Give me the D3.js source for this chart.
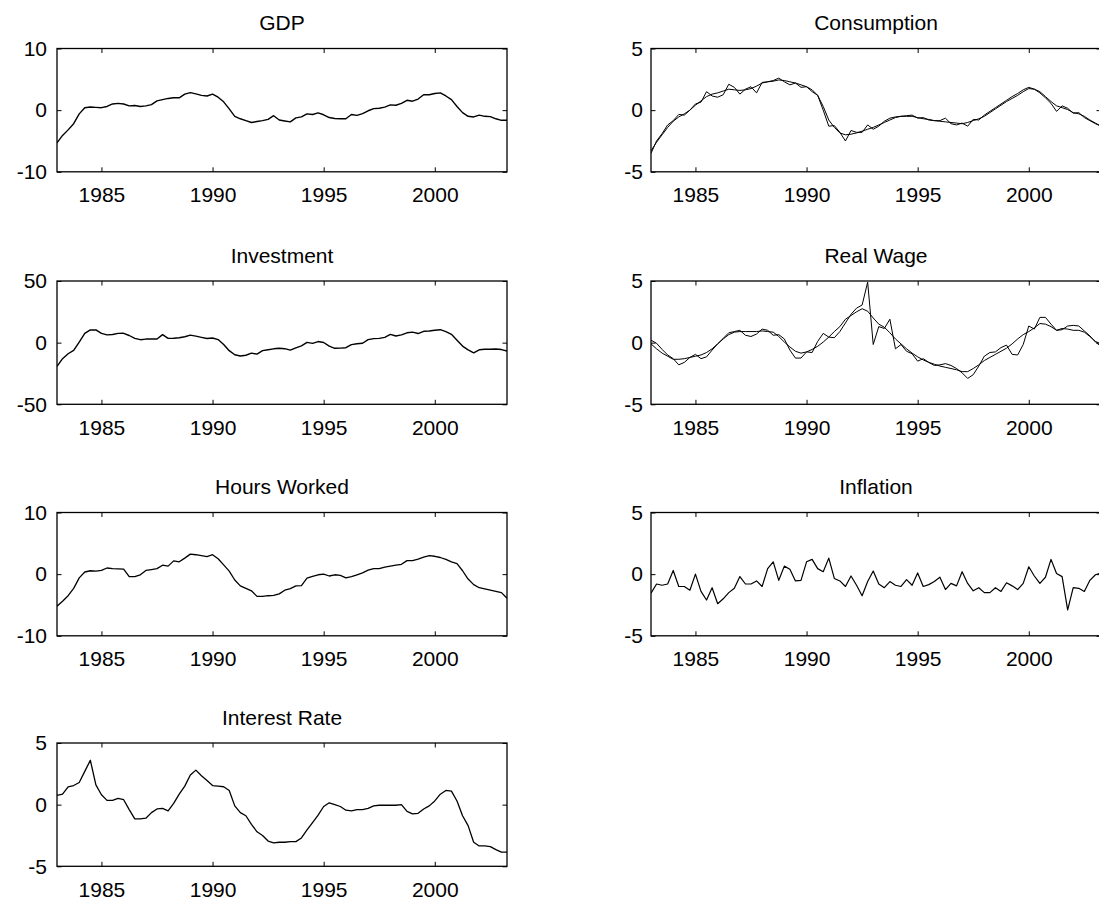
<!DOCTYPE html>
<html>
<head>
<meta charset="utf-8">
<script src="https://cdn.jsdelivr.net/npm/d3@7"></script>
<style>
  html, body { margin: 0; padding: 0; background: #fff; }
  svg { display: block; }
  text { font-family: "Liberation Sans", Arial, Helvetica, sans-serif; fill: #000; }
</style>
</head>
<body>
<svg id="chart" width="1099" height="905"></svg>
<script>
// ---- Data: quarterly, 1983Q1 .. 2003Q2 ----
const startYear = 1983;
const xTicks = [1985, 1990, 1995, 2000];

const gdp = [-5.3,-4.1,-3.2,-2.2,-0.6,0.4,0.5,0.45,0.4,0.6,1.0,1.1,1.0,0.7,0.75,0.6,0.7,0.9,1.5,1.7,1.9,2.0,2.0,2.6,2.85,2.65,2.4,2.3,2.6,2.1,1.35,0.2,-1.0,-1.4,-1.7,-2.0,-1.85,-1.7,-1.5,-0.9,-1.6,-1.75,-1.9,-1.25,-1.1,-0.6,-0.7,-0.45,-0.75,-1.2,-1.35,-1.4,-1.4,-0.7,-0.85,-0.55,-0.1,0.25,0.3,0.5,0.85,0.8,1.1,1.6,1.45,1.8,2.5,2.5,2.7,2.8,2.3,1.7,0.6,-0.4,-1.0,-1.1,-0.8,-1.0,-1.05,-1.4,-1.65,-1.65];

const consumption = [-3.5,-2.5,-1.9,-1.2,-0.85,-0.35,-0.4,0,0.5,0.65,1.5,1.15,1.05,1.25,2.1,1.85,1.3,1.7,1.9,1.4,2.25,2.3,2.4,2.6,2.3,2.05,2.2,1.85,1.9,1.5,1.2,0.0,-1.3,-1.25,-1.8,-2.5,-1.65,-1.8,-1.8,-1.2,-1.55,-1.3,-0.9,-0.65,-0.55,-0.5,-0.45,-0.4,-0.65,-0.6,-0.8,-0.85,-0.85,-0.65,-1.1,-1.2,-1.05,-1.3,-0.75,-0.8,-0.4,-0.1,0.2,0.5,0.8,1.1,1.35,1.65,1.85,1.7,1.4,1.0,0.55,-0.1,0.35,0.15,-0.25,-0.2,-0.6,-0.85,-1.1,-1.3];
const consumptionSmooth = [-3.3,-2.6,-2.0,-1.4,-0.9,-0.55,-0.3,0.0,0.4,0.75,1.1,1.3,1.4,1.55,1.7,1.65,1.6,1.65,1.75,1.95,2.2,2.3,2.35,2.45,2.4,2.3,2.2,2.05,1.9,1.65,1.2,0.3,-0.8,-1.4,-1.85,-2.0,-1.95,-1.85,-1.7,-1.55,-1.4,-1.2,-1.0,-0.8,-0.6,-0.5,-0.5,-0.5,-0.6,-0.7,-0.75,-0.85,-0.9,-0.95,-1.0,-1.05,-1.1,-1.0,-0.85,-0.7,-0.5,-0.2,0.1,0.4,0.7,0.95,1.2,1.5,1.75,1.7,1.5,1.1,0.7,0.35,0.2,0.05,-0.2,-0.3,-0.5,-0.8,-1.05,-1.3];

const investment = [-19.3,-13,-9,-6.3,0.5,7.5,10.3,10.4,7.5,6.3,6.6,7.5,7.6,5.8,3.5,2.4,2.9,3.0,3.0,6.5,3.5,3.6,4.0,4.8,6.1,5.3,4.3,3.4,3.8,2.5,-1.5,-6.5,-9.8,-10.8,-10.2,-8.5,-9.3,-6.5,-5.8,-5.0,-4.6,-4.9,-6.1,-4.2,-2.6,0.2,-0.6,0.9,0.1,-2.8,-4.6,-4.4,-4.1,-1.6,-0.9,-0.5,2.5,3.3,3.5,4.3,6.7,5.4,6.3,8.0,8.5,7.4,9.2,9.5,10.0,10.5,9.0,6.8,2.0,-2.8,-5.8,-8.2,-5.8,-5.4,-5.3,-5.2,-5.6,-6.8];

const realWage = [0.2,-0.05,-0.55,-1.0,-1.3,-1.8,-1.6,-1.2,-0.95,-1.3,-1.15,-0.6,-0.1,0.35,0.8,0.9,1.0,0.6,0.5,0.7,1.1,1.0,0.6,0.65,0.3,-0.6,-1.25,-1.25,-0.75,-0.8,0.1,0.75,0.45,0.4,0.9,1.6,2.3,2.8,3.05,4.9,-0.15,1.3,1.15,1.9,-0.5,-0.15,-0.7,-0.9,-1.5,-1.3,-1.6,-1.85,-1.8,-1.7,-1.85,-2.1,-2.45,-2.9,-2.6,-1.9,-1.1,-0.8,-0.75,-0.4,-0.2,-0.95,-1.0,-0.15,1.35,1.1,2.05,2.05,1.5,1.0,1.05,1.35,1.4,1.35,0.95,0.55,0.05,-0.3];
const realWageSmooth = [-0.1,-0.5,-0.85,-1.1,-1.35,-1.35,-1.3,-1.2,-1.1,-1.0,-0.8,-0.5,-0.1,0.3,0.65,0.85,0.9,0.9,0.9,0.9,0.95,0.9,0.85,0.5,0.05,-0.35,-0.7,-0.85,-0.75,-0.55,-0.3,0.05,0.45,0.9,1.3,1.9,2.2,2.5,2.75,2.55,2.0,1.5,1.25,0.8,0.3,-0.1,-0.5,-0.85,-1.15,-1.4,-1.6,-1.75,-1.9,-2.0,-2.1,-2.2,-2.35,-2.35,-2.1,-1.8,-1.45,-1.2,-0.95,-0.7,-0.45,-0.1,0.3,0.65,0.9,1.2,1.55,1.5,1.3,1.0,1.15,1.1,1.0,1.0,0.85,0.5,0.1,-0.1];

const hoursWorked = [-5.2,-4.4,-3.5,-2.3,-0.6,0.35,0.55,0.5,0.6,1.0,0.9,0.85,0.8,-0.4,-0.4,-0.1,0.6,0.75,0.9,1.45,1.3,2.15,2.0,2.6,3.25,3.15,3.0,2.85,3.15,2.5,1.5,0.5,-0.95,-1.9,-2.3,-2.7,-3.6,-3.6,-3.5,-3.45,-3.2,-2.6,-2.35,-1.9,-1.85,-0.65,-0.35,-0.1,0.0,-0.3,-0.1,-0.2,-0.6,-0.4,-0.1,0.2,0.65,0.9,0.9,1.15,1.3,1.45,1.6,2.2,2.2,2.45,2.75,3.0,2.9,2.7,2.4,2.0,1.7,0.55,-0.8,-1.7,-2.2,-2.4,-2.6,-2.8,-3.0,-3.9];

const inflation = [-1.55,-0.8,-0.9,-0.8,0.3,-1.0,-1.0,-1.3,0,-1.4,-2.1,-1.1,-2.4,-2.0,-1.5,-1.15,-0.2,-0.8,-0.8,-0.55,-1.0,0.45,1.0,-0.5,0.65,0.4,-0.55,-0.5,1.0,1.2,0.45,0.2,1.3,-0.35,-0.55,-1.0,-0.15,-0.9,-1.75,-0.6,0.25,-0.8,-1.1,-0.6,-0.9,-1.0,-0.45,-0.9,0.1,-1.0,-0.85,-0.6,-0.25,-1.25,-0.75,-0.95,0.2,-0.75,-1.35,-1.1,-1.5,-1.5,-1.1,-1.4,-0.7,-0.95,-1.25,-0.75,0.6,-0.15,-0.75,-0.25,1.2,0.05,-0.2,-2.9,-1.1,-1.15,-1.4,-0.5,-0.05,0.1];

const interestRate = [0.75,0.85,1.45,1.55,1.8,2.7,3.6,1.6,0.8,0.35,0.35,0.5,0.4,-0.4,-1.15,-1.15,-1.1,-0.65,-0.35,-0.3,-0.5,0.1,0.85,1.5,2.4,2.8,2.35,1.95,1.55,1.5,1.45,1.15,-0.1,-0.65,-0.9,-1.6,-2.2,-2.5,-2.95,-3.1,-3.05,-3.05,-3.0,-3.0,-2.7,-2.05,-1.45,-0.85,-0.15,0.15,0.0,-0.15,-0.45,-0.5,-0.4,-0.4,-0.3,-0.1,-0.05,-0.05,-0.05,-0.05,0.0,-0.55,-0.75,-0.7,-0.35,-0.1,0.3,0.85,1.15,1.1,0.3,-0.9,-1.7,-3.05,-3.35,-3.35,-3.4,-3.65,-3.85,-3.85];

const panels = [
  { title: "GDP",           yTicks: [-10, 0, 10], series: [gdp],                              width: [1.4] },
  { title: "Consumption",   yTicks: [-5, 0, 5],   series: [consumption, consumptionSmooth],   width: [1, 1] },
  { title: "Investment",    yTicks: [-50, 0, 50], series: [investment],                       width: [1.4] },
  { title: "Real Wage",     yTicks: [-5, 0, 5],   series: [realWage, realWageSmooth],         width: [1, 1] },
  { title: "Hours Worked",  yTicks: [-10, 0, 10], series: [hoursWorked],                      width: [1.3] },
  { title: "Inflation",     yTicks: [-5, 0, 5],   series: [inflation],                        width: [1.2] },
  { title: "Interest Rate", yTicks: [-5, 0, 5],   series: [interestRate],                     width: [1.3] }
];

// ---- Layout ----
const colX = [57, 651];
const yPad = [10, 8];
const rowTop = [48.5, 281, 512.5, 743];
const W = 450, H = 123.3;
const svg = d3.select("#chart");
const FS = 21;
const tickLen = 4.5;
const fmt = d => String(d);

panels.forEach((p, i) => {
  const col = i % 2, row = Math.floor(i / 2);
  const x0 = colX[col], y0 = rowTop[row];
  const n = p.series[0].length;
  const x = d3.scaleLinear().domain([startYear, startYear + (n - 1) / 4]).range([0, W]);
  const y = d3.scaleLinear().domain([p.yTicks[0], p.yTicks[p.yTicks.length - 1]]).range([H, 0]);

  const g = svg.append("g").attr("transform", `translate(${x0},${y0})`);

  const clipId = "clip" + i;
  g.append("clipPath").attr("id", clipId).append("rect")
    .attr("x", 0).attr("y", 0).attr("width", W).attr("height", H);

  const line = d3.line().x((d, k) => x(startYear + k / 4)).y(d => y(d));
  p.series.forEach((s, si) => {
    g.append("path").datum(s)
      .attr("clip-path", `url(#${clipId})`)
      .attr("fill", "none").attr("stroke", "#000")
      .attr("stroke-width", p.width[si])
      .attr("stroke-linejoin", "round")
      .attr("d", line);
  });

  const styleAxis = sel => {
    sel.select(".domain").remove();
    sel.selectAll(".tick line").attr("stroke", "#000").attr("stroke-width", 1);
    sel.selectAll("text").attr("font-size", FS).attr("font-family", '"Liberation Sans", Arial, sans-serif').attr("fill", "#000");
  };
  g.append("g").attr("transform", `translate(0,${H})`)
    .call(d3.axisBottom(x).tickValues(xTicks).tickFormat(fmt).tickSize(-tickLen).tickPadding(15.5))
    .call(styleAxis);
  g.append("g")
    .call(d3.axisTop(x).tickValues(xTicks).tickFormat("").tickSize(-tickLen))
    .call(styleAxis);
  g.append("g")
    .call(d3.axisLeft(y).tickValues(p.yTicks).tickFormat(fmt).tickSize(-tickLen).tickPadding(yPad[col]))
    .call(styleAxis);
  g.append("g").attr("transform", `translate(${W},0)`)
    .call(d3.axisRight(y).tickValues(p.yTicks).tickFormat("").tickSize(-tickLen))
    .call(styleAxis);

  g.append("rect").attr("x", 0).attr("y", 0).attr("width", W).attr("height", H)
    .attr("fill", "none").attr("stroke", "#000").attr("stroke-width", 1.3);

  g.append("text").attr("x", W / 2).attr("y", -18.5)
    .attr("text-anchor", "middle").attr("font-size", FS).text(p.title);
});
</script>
</body>
</html>
